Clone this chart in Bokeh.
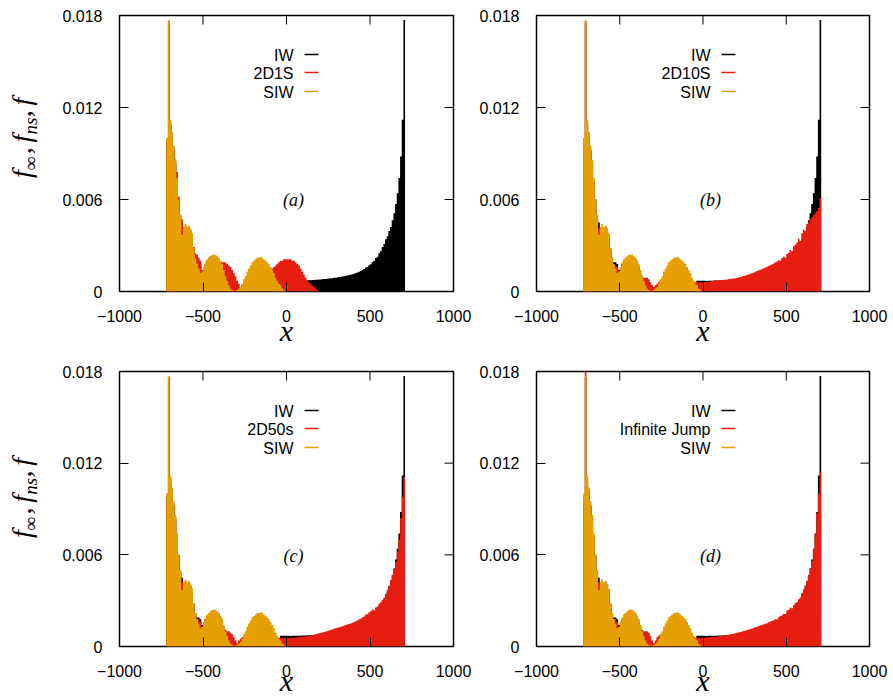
import numpy as np
from bokeh.plotting import figure
from bokeh.layouts import column, row
from bokeh.models import FixedTicker, Label, Range1d
from bokeh.embed import file_html
from bokeh.resources import INLINE

# ---------------------------------------------------------------------------
# Histogram data: bins of width 10 starting at x = -720
# ---------------------------------------------------------------------------
BIN_START = -720.0
BIN_WIDTH = 10.0

# IW: -715 ... 715
iw = [
    0.0098, 0.0176, 0.0110, 0.0102, 0.0092, 0.0084, 0.0072, 0.0060, 0.0049, 0.0045,
    0.0040, 0.0042, 0.0041, 0.0042, 0.0040, 0.0037, 0.0028, 0.0022, 0.0019, 0.0019,
    0.0018, 0.0014, 0.0015, 0.0018, 0.0020, 0.0021, 0.0022, 0.0023, 0.0023, 0.0023,
    0.0022, 0.0021, 0.0019, 0.0016, 0.0011, 0.0008, 0.0006, 0.0005, 0.0004, 0.0003,
    0.0002, 0.0002, 0.0002, 0.0002, 0.0003, 0.0004, 0.0006, 0.0008, 0.0010, 0.0012,
    0.0014, 0.0016, 0.0017, 0.0018, 0.0019, 0.0019, 0.0019, 0.0019, 0.0018, 0.0017,
    0.0016, 0.0015, 0.0013, 0.0011, 0.0009, 0.0007, 0.0006, 0.0005, 0.0007, 0.0007,
    0.0007, 0.0007,
    0.00070, 0.00070, 0.00069, 0.00070, 0.00070, 0.00070, 0.00071, 0.00071, 0.00071, 0.00072,
    0.00072, 0.00072, 0.00073, 0.00073, 0.00074, 0.00075, 0.00075, 0.00076, 0.00077, 0.00078,
    0.00079, 0.00080, 0.00081, 0.00082, 0.00083, 0.00084, 0.00086, 0.00087, 0.00089, 0.00090,
    0.00092, 0.00094, 0.00096, 0.00098, 0.00100, 0.00102, 0.00104, 0.00107, 0.00110, 0.00113,
    0.00116, 0.00120, 0.00124, 0.00129, 0.00134, 0.00141, 0.00146, 0.00156, 0.00160, 0.00172,
    0.00178, 0.00192, 0.00200, 0.00218, 0.00226, 0.00250, 0.00262, 0.00290, 0.00310, 0.00340,
    0.00360, 0.00395, 0.00420, 0.00465, 0.00510, 0.00570, 0.00640, 0.00740, 0.00880, 0.01120,
    0.01770, 0.0,
]

# SIW: -715 ... -5
siw = [
    0.0100, 0.0177, 0.0112, 0.0104, 0.0095, 0.0086, 0.0074, 0.0060, 0.0050, 0.0037,
    0.0042, 0.0044, 0.0042, 0.0043, 0.0041, 0.0038, 0.0028, 0.0022, 0.0018, 0.0015,
    0.0012, 0.0013, 0.0016, 0.0019, 0.0021, 0.0022, 0.0023, 0.0024, 0.0024, 0.0024,
    0.0023, 0.0022, 0.0020, 0.0018, 0.0014, 0.0010, 0.0007, 0.0004, 0.0002, 0.0001,
    0.00005, 0.00005, 0.0001, 0.0002, 0.0003, 0.0005, 0.0008, 0.0010, 0.0013, 0.0015,
    0.0017, 0.0019, 0.0020, 0.0021, 0.0022, 0.0022, 0.00225, 0.0022, 0.0021, 0.0020,
    0.0019, 0.0018, 0.0016, 0.0014, 0.0012, 0.0009, 0.0007, 0.0005, 0.0004, 0.0002,
    0.0001, 0.00003,
]

# 2D1S: -715 ... 195
red_2d1s = [
    0.0100, 0.0175, 0.0110, 0.0104, 0.0094, 0.0086, 0.0078, 0.0062, 0.0050, 0.0047,
    0.0040, 0.0043, 0.0042, 0.0042, 0.0040, 0.0037, 0.0029, 0.0025, 0.0024, 0.0022,
    0.0020, 0.0014, 0.0015, 0.0018, 0.0020, 0.0022, 0.0023, 0.0023, 0.0023, 0.0023,
    0.0022, 0.0021, 0.0019, 0.0019, 0.0019, 0.0019, 0.0018, 0.0017, 0.0016, 0.0014,
    0.0012, 0.0010, 0.0007, 0.0005, 0.0003, 0.0004, 0.0006, 0.0008, 0.0009, 0.0010,
    0.0011, 0.0011, 0.0011, 0.0011, 0.0011, 0.0010, 0.0010, 0.0010, 0.0010, 0.0011,
    0.0012, 0.0013, 0.0014, 0.0015, 0.0016, 0.0017, 0.0018, 0.0019, 0.0020, 0.0020,
    0.0021, 0.0021,
    0.0021, 0.0021, 0.0021, 0.0020, 0.0020, 0.0019, 0.0018, 0.0017, 0.0015, 0.0013,
    0.0011, 0.0009, 0.0007, 0.0006, 0.0005, 0.0004, 0.0003, 0.0002, 0.0001, 0.00003,
]

# 2D10S: -715 ... 715
red_2d10s = [
    0.0100, 0.0175, 0.0110, 0.0103, 0.0093, 0.0084, 0.0072, 0.0058, 0.0048, 0.0041,
    0.0040, 0.0042, 0.0041, 0.0042, 0.0039, 0.0036, 0.0027, 0.0021, 0.0018, 0.0017,
    0.0016, 0.0013, 0.0015, 0.0018, 0.0020, 0.0021, 0.0022, 0.0023, 0.0023, 0.0023,
    0.0022, 0.0021, 0.0019, 0.0016, 0.0012, 0.0010, 0.0009, 0.0009, 0.0009, 0.0008,
    0.0006, 0.0004, 0.0003, 0.0004, 0.0005, 0.0006, 0.0007, 0.0008, 0.0008, 0.0008,
    0.0008, 0.0008, 0.0008, 0.0008, 0.0008, 0.0007, 0.0007, 0.0007, 0.0007, 0.0007,
    0.0007, 0.0007, 0.0006, 0.0006, 0.0006, 0.0006, 0.0006, 0.0006, 0.0006, 0.0006,
    0.0006, 0.0006,
    0.00060, 0.00061, 0.00062, 0.00064, 0.00066, 0.00068, 0.00070, 0.00071, 0.00072, 0.00073,
    0.00074, 0.00075, 0.00076, 0.00077, 0.00078, 0.00080, 0.00081, 0.00083, 0.00085, 0.00087,
    0.00089, 0.00092, 0.00095, 0.00098, 0.00101, 0.00104, 0.00107, 0.00111, 0.00115, 0.00119,
    0.00123, 0.00128, 0.00133, 0.00138, 0.00142, 0.00147, 0.00152, 0.00157, 0.00162, 0.00167,
    0.00172, 0.00178, 0.00183, 0.00190, 0.00196, 0.00204, 0.00200, 0.00218, 0.00226, 0.00220,
    0.00245, 0.00252, 0.00270, 0.00262, 0.00295, 0.00305, 0.00320, 0.00345, 0.00330, 0.00380,
    0.00405, 0.00395, 0.00440, 0.00450, 0.00475, 0.00485, 0.00500, 0.00510, 0.00525, 0.00545,
    0.00610, 0.0,
]

# 2D50s: -715 ... 715
red_2d50s = [
    0.0100, 0.0176, 0.0110, 0.0103, 0.0093, 0.0084, 0.0072, 0.0058, 0.0048, 0.0042,
    0.0040, 0.0043, 0.0041, 0.0042, 0.0040, 0.0036, 0.0027, 0.0021, 0.0018, 0.0018,
    0.0016, 0.0013, 0.0015, 0.0018, 0.0020, 0.0021, 0.0022, 0.0023, 0.0023, 0.0023,
    0.0022, 0.0021, 0.0019, 0.0016, 0.0013, 0.0011, 0.0010, 0.0010, 0.0009, 0.0008,
    0.0006, 0.0004, 0.0002, 0.0004, 0.0005, 0.0006, 0.0007, 0.0007, 0.0007, 0.0007,
    0.0007, 0.0007, 0.0007, 0.0007, 0.0007, 0.0007, 0.0006, 0.0006, 0.0006, 0.0006,
    0.0006, 0.0006, 0.0006, 0.0006, 0.0006, 0.0006, 0.00055, 0.00055, 0.00055, 0.00055,
    0.00055, 0.00055,
    0.00056, 0.00057, 0.00057, 0.00058, 0.00058, 0.00059, 0.00060, 0.00061, 0.00062, 0.00063,
    0.00065, 0.00066, 0.00068, 0.00070, 0.00072, 0.00074, 0.00077, 0.00080, 0.00083, 0.00086,
    0.00089, 0.00092, 0.00095, 0.00098, 0.00101, 0.00104, 0.00108, 0.00112, 0.00116, 0.00119,
    0.00122, 0.00126, 0.00129, 0.00133, 0.00136, 0.00140, 0.00144, 0.00147, 0.00151, 0.00156,
    0.00160, 0.00166, 0.00170, 0.00178, 0.00182, 0.00192, 0.00196, 0.00208, 0.00212, 0.00225,
    0.00230, 0.00242, 0.00238, 0.00255, 0.00262, 0.00280, 0.00290, 0.00305, 0.00320, 0.00345,
    0.00370, 0.00400, 0.00435, 0.00470, 0.00510, 0.00555, 0.00620, 0.00700, 0.00840, 0.00980,
    0.01110, 0.0,
]

# Infinite Jump: -715 ... 715
red_jump = [
    0.0035, 0.0180, 0.0110, 0.0103, 0.0093, 0.0084, 0.0072, 0.0058, 0.0048, 0.0042,
    0.0040, 0.0043, 0.0041, 0.0042, 0.0040, 0.0036, 0.0027, 0.0021, 0.0018, 0.0018,
    0.0016, 0.0013, 0.0015, 0.0018, 0.0020, 0.0021, 0.0022, 0.0023, 0.0023, 0.0023,
    0.0022, 0.0021, 0.0019, 0.0016, 0.0013, 0.0011, 0.0010, 0.0010, 0.0010, 0.0009,
    0.0007, 0.0004, 0.0002, 0.0004, 0.0006, 0.0007, 0.0008, 0.0008, 0.0008, 0.0008,
    0.0007, 0.0007, 0.0007, 0.0007, 0.0007, 0.0007, 0.0007, 0.0006, 0.0006, 0.0006,
    0.0006, 0.0006, 0.0006, 0.0006, 0.0006, 0.0006, 0.00058, 0.00058, 0.00057, 0.00057,
    0.00057, 0.00057,
    0.00057, 0.00058, 0.00059, 0.00060, 0.00061, 0.00062, 0.00063, 0.00064, 0.00066, 0.00067,
    0.00068, 0.00070, 0.00071, 0.00073, 0.00075, 0.00077, 0.00080, 0.00082, 0.00084, 0.00087,
    0.00090, 0.00092, 0.00095, 0.00098, 0.00101, 0.00104, 0.00108, 0.00111, 0.00115, 0.00118,
    0.00122, 0.00126, 0.00130, 0.00134, 0.00137, 0.00141, 0.00145, 0.00149, 0.00153, 0.00158,
    0.00163, 0.00168, 0.00172, 0.00180, 0.00176, 0.00192, 0.00200, 0.00205, 0.00215, 0.00212,
    0.00235, 0.00240, 0.00255, 0.00250, 0.00270, 0.00285, 0.00292, 0.00310, 0.00320, 0.00350,
    0.00375, 0.00400, 0.00430, 0.00470, 0.00510, 0.00560, 0.00640, 0.00740, 0.00870, 0.01000,
    0.01140, 0.0,
]

x_ticks = [-1000, -500, 0, 500, 1000]
x_tick_labels = ["\u22121000", "\u2212500", "0", "500", "1000"]
y_ticks = [0, 0.006, 0.012, 0.018]
y_tick_labels = ["0", "0.006", "0.012", "0.018"]

panels = [
    ("(a)", "2D1S", red_2d1s),
    ("(b)", "2D10S", red_2d10s),
    ("(c)", "2D50s", red_2d50s),
    ("(d)", "Infinite Jump", red_jump),
]

BLACK = "#000000"
RED = "#e51e10"
ORANGE = "#e69f00"

X_RANGE = (-1000, 1000)
Y_RANGE = (0, 0.018)

SANS = "Liberation Sans"
SERIF = "Liberation Serif"
TICK_LEN = 9


def step_edges(values):
    vals = np.asarray(values, dtype=float)
    edges = BIN_START + BIN_WIDTH * np.arange(len(vals) + 1)
    return edges, np.append(vals, 0.0)


def make_panel(tag, red_name, red_vals, width, height, borders, title_standoff):
    left, right, top, bottom = borders
    fw = width - left - right
    fh = height - top - bottom

    def fx(dx):  # pixel offset from the frame's left edge -> data x
        return X_RANGE[0] + dx * (X_RANGE[1] - X_RANGE[0]) / fw

    def fy(dy):  # pixel offset from the frame's top edge -> data y
        return Y_RANGE[1] - dy * (Y_RANGE[1] - Y_RANGE[0]) / fh

    p = figure(width=width, height=height,
               x_range=Range1d(*X_RANGE), y_range=Range1d(*Y_RANGE),
               output_backend="svg", toolbar_location=None,
               min_border_left=left, min_border_right=right,
               min_border_top=top, min_border_bottom=bottom)
    p.grid.visible = False
    p.outline_line_color = "black"
    p.outline_line_width = 1.5
    p.outline_line_alpha = 1.0
    p.background_fill_color = "white"
    p.border_fill_color = "white"

    # histograms, back to front
    for vals, color in ((iw, BLACK), (red_vals, RED), (siw, ORANGE)):
        xs, ys = step_edges(vals)
        p.varea_step(x=xs, y1=np.zeros_like(ys), y2=ys, step_mode="after",
                     fill_color=color)

    xa = p.xaxis[0]
    ya = p.yaxis[0]
    xa.ticker = FixedTicker(ticks=x_ticks)
    ya.ticker = FixedTicker(ticks=y_ticks)
    xa.major_label_overrides = dict(zip(x_ticks, x_tick_labels))
    ya.major_label_overrides = dict(zip(y_ticks, y_tick_labels))
    for ax in (xa, ya):
        ax.axis_line_color = None
        ax.major_tick_in = TICK_LEN
        ax.major_tick_out = 0
        ax.minor_tick_in = 0
        ax.minor_tick_out = 0
        ax.major_tick_line_color = "black"
        ax.major_tick_line_width = 1
        ax.major_label_text_font = SANS
        ax.major_label_text_font_size = "16px"
        ax.major_label_text_color = "black"
    xa.major_label_standoff = 18
    ya.major_label_standoff = 17

    # x axis title
    xa.axis_label = "x"
    xa.axis_label_text_font = SERIF
    xa.axis_label_text_font_style = "italic"
    xa.axis_label_text_font_size = "30px"
    xa.axis_label_text_color = "black"
    xa.axis_label_standoff = title_standoff

    # mirrored tick marks along the top and right edges of the frame
    p.segment(x0=x_ticks, y0=[Y_RANGE[1]] * len(x_ticks),
              x1=x_ticks, y1=[fy(TICK_LEN)] * len(x_ticks),
              line_color="black", line_width=1)
    p.segment(x0=[X_RANGE[1]] * len(y_ticks), y0=y_ticks,
              x1=[fx(fw - TICK_LEN)] * len(y_ticks), y1=y_ticks,
              line_color="black", line_width=1)

    # key: right-aligned names with short line samples
    names = ["IW", red_name, "SIW"]
    colors = [BLACK, RED, ORANGE]
    key_rows = [40, 58, 77]
    for name, color, dy in zip(names, colors, key_rows):
        p.add_layout(Label(x=fx(174), y=fy(dy), text=name, text_align="right",
                           text_baseline="middle", text_font=SANS,
                           text_font_size="16px", text_color="black"))
        p.segment(x0=[fx(185)], y0=[fy(dy - 1)], x1=[fx(199)], y1=[fy(dy - 1)],
                  line_color=color, line_width=1.5)

    # panel tag
    p.add_layout(Label(x=fx(174), y=fy(184), text=tag, text_align="center",
                       text_baseline="middle", text_font=SERIF,
                       text_font_style="italic", text_font_size="18px",
                       text_color="black"))
    return p


def y_title(width, height, start_from_top):
    """Rotated y axis title with subscripts, on a blank pixel-unit canvas."""
    f = figure(width=width, height=height,
               x_range=Range1d(0, width), y_range=Range1d(0, height),
               x_axis_type=None, y_axis_type=None,
               output_backend="svg", toolbar_location=None, min_border=0)
    f.outline_line_color = None
    f.background_fill_color = "white"
    f.border_fill_color = "white"
    # (text, offset along the text direction, distance from the left, size)
    pieces = [
        ("f", 0, 21, "28px"),
        ("\u221e", 10, 30, "19px"),
        (",", 30, 21, "28px"),
        ("f", 45, 21, "28px"),
        ("ns", 55, 30, "19px"),
        (",", 77, 21, "28px"),
        ("f", 92, 21, "28px"),
    ]
    for text, along, left, size in pieces:
        f.add_layout(Label(x=left, y=height - start_from_top + along,
                           text=text, angle=np.pi / 2, text_align="left",
                           text_baseline="middle", text_font=SERIF,
                           text_font_style="italic", text_font_size=size,
                           text_color="black"))
    return f


pa = make_panel(panels[0][0], panels[0][1], panels[0][2], 428, 350, (74, 20, 15, 59), -11)
pb = make_panel(panels[1][0], panels[1][1], panels[1][2], 420, 350, (63, 24, 15, 59), -11)
pc = make_panel(panels[2][0], panels[2][1], panels[2][2], 428, 350, (74, 20, 21, 54), -16)
pd = make_panel(panels[3][0], panels[3][1], panels[3][2], 420, 350, (63, 24, 21, 54), -16)

ya_title = y_title(45, 350, 206)
yc_title = y_title(45, 350, 212)

layout = column(
    row(ya_title, pa, pb),
    row(yc_title, pc, pd),
    spacing=0,
)

open("out.html", "w").write(file_html(layout, INLINE))
